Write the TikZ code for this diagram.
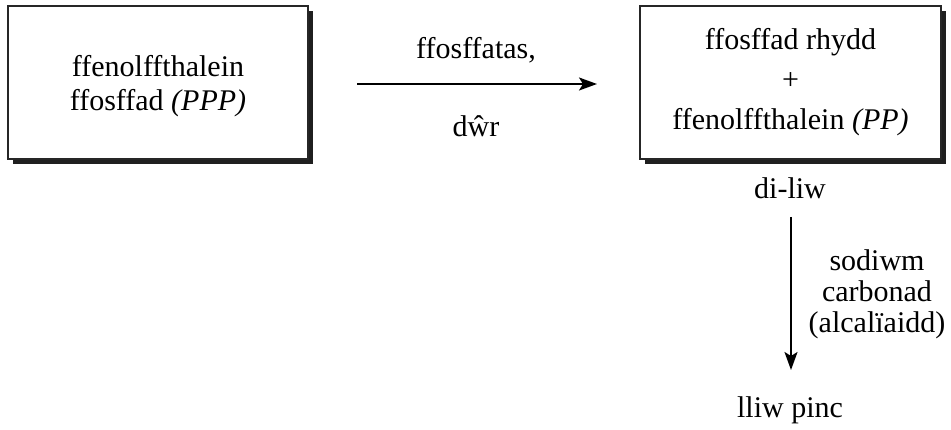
\documentclass[tikz,border=0pt]{standalone}
\usepackage{fontspec}
\setmainfont{Liberation Serif}
\usetikzlibrary{arrows.meta,shadows}
\tikzset{
  txt/.style={font=\fontsize{30}{34}\selectfont, inner sep=0pt, align=center},
  box/.style={draw=black!85, line width=1.5pt, fill=white, inner sep=0pt,
    drop shadow={shadow xshift=5pt, shadow yshift=-5pt, fill=black!88, opacity=1},
    font=\fontsize{30}{34}\selectfont, align=center},
  conn/.style={line width=2pt, -{Stealth[length=18pt,width=13pt,inset=4pt]}}
}
\begin{document}
\begin{tikzpicture}[x=1pt,y=-1pt]
\useasboundingbox (0,0) rectangle (951,430);
\node[box, minimum width=300pt, minimum height=153pt] (L) at (158,82.5) {};
\node[txt] (Lt) at (158,86) {ffenolffthalein\\ffosffad \textit{(PPP)}};
\node[box, minimum width=301pt, minimum height=153pt,
  font=\fontsize{30}{40}\selectfont] (R) at (790.5,82.5)
  {ffosffad rhydd\\+\\ffenolffthalein \textit{(PP)}};
\coordinate (a1) at (357,84);
\coordinate (a2) at (597,84);
\draw[conn] (a1) -- (a2);
\node[txt] (t1) at (476,50) {ffosffatas,};
\node[txt] (t2) at (476,126) {dŵr};
\node[txt] (d) at (790,188) {di-liw};
\coordinate (b1) at (791,217);
\coordinate (b2) at (791,370);
\draw[conn] (b1) -- (b2);
\node[txt, font=\fontsize{30}{31}\selectfont] (s) at (877,294) {sodiwm\\carbonad\\(alcalïaidd)};
\node[txt] (p) at (790,410) {lliw pinc};
\end{tikzpicture}
\end{document}
